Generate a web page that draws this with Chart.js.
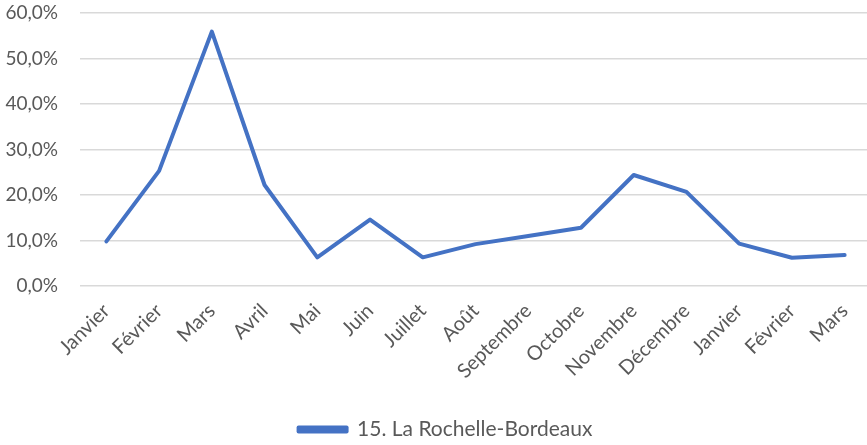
<!DOCTYPE html>
<html>
<head>
<meta charset="utf-8">
<script src="https://cdn.jsdelivr.net/npm/chart.js@4"></script>
<style>
  html, body { margin: 0; padding: 0; background: #fff; overflow: hidden; }
  #wrap { position: relative; width: 871px; height: 445px; }
</style>
</head>
<body>
<div id="wrap"><canvas id="c"></canvas></div>
<script>
const categories = ["Janvier","Février","Mars","Avril","Mai","Juin","Juillet","Août","Septembre","Octobre","Novembre","Décembre","Janvier","Février","Mars"];
const seriesName = "15. La Rochelle-Bordeaux";
const seriesValues = [9.8, 25.3, 55.9, 22.2, 6.3, 14.6, 6.3, 9.2, 11.0, 12.8, 24.4, 20.7, 9.3, 6.2, 6.8];
const yTicks = [0, 10, 20, 30, 40, 50, 60];

const FONT = "Lato, 'Open Sans', sans-serif";
const GREY = "#595959";

const shiftLegend = {
  id: 'shiftLegend',
  afterLayout(chart) {
    const lg = chart.legend;
    if (lg) { lg.left += 10; lg.right += 10; lg.top += 5; lg.bottom += 5; }
  }
};

new Chart(document.getElementById('c'), {
  type: 'line',
  data: {
    labels: categories,
    datasets: [{
      label: seriesName,
      data: seriesValues,
      borderColor: '#4472C4',
      backgroundColor: '#4472C4',
      borderWidth: 4,
      pointRadius: 0,
      tension: 0,
      borderJoinStyle: 'round',
      borderCapStyle: 'round'
    }]
  },
  plugins: [shiftLegend],
  options: {
    responsive: true,
    maintainAspectRatio: false,
    animation: false,
    layout: { padding: { top: 13, right: 0, bottom: 0, left: 0 } },
    plugins: {
      tooltip: { enabled: false },
      legend: {
        position: 'bottom',
        labels: {
          color: GREY,
          font: { family: FONT, size: 21 },
          boxWidth: 48,
          boxHeight: 4,
          padding: 5
        }
      }
    },
    scales: {
      x: {
        offset: true,
        grid: { display: false },
        border: { display: false },
        ticks: {
          color: GREY,
          font: { family: FONT, size: 20 },
          minRotation: 45,
          maxRotation: 45,
          autoSkip: false,
          padding: 5
        },
        afterFit(scale) { scale.height = 123; }
      },
      y: {
        min: 0,
        max: 60,
        afterBuildTicks(scale) { scale.ticks = yTicks.map(v => ({ value: v })); },
        grid: { color: '#d9d9d9', lineWidth: 1.5, drawTicks: false },
        border: { display: false },
        ticks: {
          color: GREY,
          font: { family: FONT, size: 19 },
          padding: 22,
          callback: v => v.toFixed(1).replace('.', ',') + '%'
        },
        afterFit(scale) { scale.width = 80; scale.paddingTop = 0; scale.paddingBottom = 0; }
      }
    }
  }
});
</script>
</body>
</html>
